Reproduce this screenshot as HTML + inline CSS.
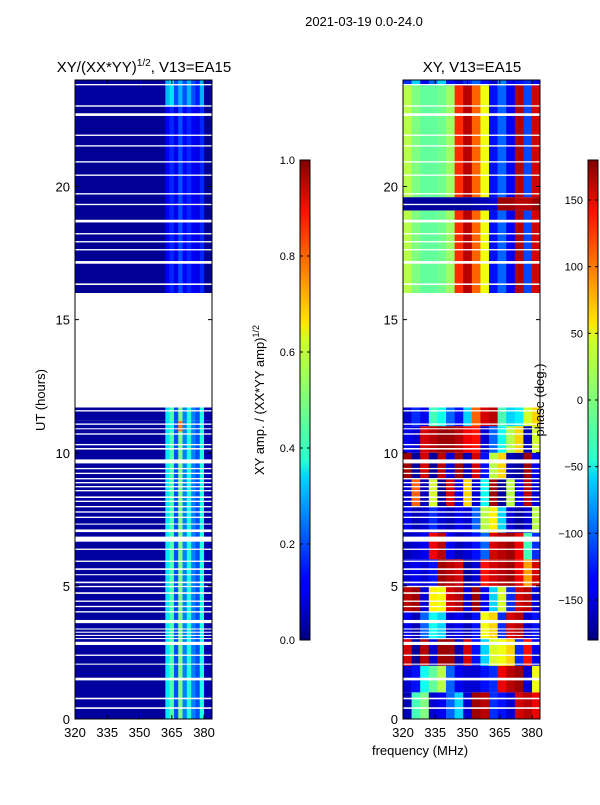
<!DOCTYPE html>
<html><head><meta charset="utf-8"><style>
body{margin:0;background:#fff;}
svg text{font-family:"Liberation Sans",sans-serif;fill:#000;}
</style></head><body>
<svg id="fig" width="600" height="800" xmlns="http://www.w3.org/2000/svg">
<defs>
<linearGradient id="jetg" x1="0" y1="1" x2="0" y2="0">
<stop offset="0" stop-color="#000080"/><stop offset="0.11" stop-color="#0000ff"/><stop offset="0.125" stop-color="#0000ff"/>
<stop offset="0.34" stop-color="#00d4ff"/><stop offset="0.375" stop-color="#29ffce"/><stop offset="0.5" stop-color="#7dff7a"/>
<stop offset="0.625" stop-color="#ceff29"/><stop offset="0.66" stop-color="#ffe600"/><stop offset="0.89" stop-color="#ff1300"/>
<stop offset="1" stop-color="#800000"/></linearGradient>
</defs>
<g id="left"></g>
<g id="right"></g>
<g id="axes"></g>
<text x="364" y="26" font-size="13" text-anchor="middle">2021-03-19 0.0-24.0</text>
<text x="144" y="72" font-size="15" text-anchor="middle">XY/(XX*YY)<tspan font-size="10" dy="-6">1/2</tspan><tspan dy="6">, V13=EA15</tspan></text>
<text x="472" y="72" font-size="15" text-anchor="middle">XY, V13=EA15</text>
<text transform="translate(45,400) rotate(-90)" font-size="13" text-anchor="middle">UT (hours)</text>
<text transform="translate(264,400) rotate(-90)" font-size="13" text-anchor="middle">XY amp. / (XX*YY amp)<tspan font-size="9" dy="-5">1/2</tspan></text>
<text transform="translate(544,400) rotate(-90)" font-size="13" text-anchor="middle">phase (deg.)</text>
<text x="420" y="755" font-size="13" text-anchor="middle">frequency (MHz)</text>
</svg>
<script>
// ---- data ----
const ampFreqEdges=[320,362,364,366,368,370,372,374,376,378,380,384];
const ampBandHours=[[0,10.8],[10.8,11.2],[11.2,11.7],[16,23.0],[23.0,24]];
const ampBandValues=[
[0.03,0.35,0.45,0.2,0.5,0.25,0.4,0.25,0.2,0.4,0.05],
[0.03,0.35,0.4,0.2,0.75,0.25,0.4,0.25,0.2,0.4,0.05],
[0.03,0.35,0.45,0.2,0.5,0.25,0.4,0.25,0.2,0.4,0.05],
[0.02,0.12,0.16,0.1,0.2,0.12,0.16,0.12,0.1,0.16,0.02],
[0.03,0.3,0.35,0.2,0.3,0.2,0.3,0.2,0.15,0.3,0.03]];
const phaseFreqEdges=[320,324,328,332,336,340,344,348,352,356,360,364,368,372,376,380,384];
const phaseBandHours=[[0,1],[1,2],[2,3],[3,4],[4,5],[5,6],[6,7],[7,8],[8,9],[9,10],[10,11],[11,11.7],[16,19.1],[19.1,19.6],[19.6,23.8],[23.8,24]];
const phaseBandValues=[
[-160,-20,0,-150,-140,-100,-60,-150,170,160,-120,-130,-150,150,160,140],
[-150,-130,-40,-10,20,-100,-140,-150,-150,-130,-120,140,160,170,-150,40],
[150,-170,160,-150,170,170,-160,150,-130,-60,30,40,60,-120,130,-140],
[-140,-160,-100,-40,-60,-150,-140,-160,-130,40,60,-120,150,160,-150,-130],
[160,170,-150,50,40,150,160,-150,170,-140,-60,30,-120,150,160,-150],
[-150,-140,-150,-130,170,160,150,-170,-150,130,150,160,170,140,80,150],
[-160,-150,-140,140,160,-140,-160,-150,-130,-100,150,160,170,140,-20,-120],
[-140,-160,-150,-120,-150,-160,-140,-150,-100,20,50,-60,-150,-170,-150,20],
[-150,100,-160,30,-170,150,-140,60,-150,-40,170,-170,20,-140,160,-150],
[170,-170,150,-170,160,-150,170,-160,150,-130,20,60,-160,-170,170,-140],
[-140,-150,150,160,170,170,160,140,130,-150,-100,-40,20,60,-160,30],
[-150,-120,-140,-20,-40,-100,-130,-60,100,150,160,-20,-60,-50,30,60],
[20,0,-10,-10,-5,10,120,160,100,40,-130,-100,-140,160,-110,150],
[-170,-170,-170,-170,-170,-170,-170,-170,-165,-160,-150,170,170,160,160,170],
[20,0,-10,-10,-5,10,120,160,100,40,-130,-100,-140,160,-110,150],
[-120,-60,-140,-100,-60,-130,-150,-120,-100,-130,-150,-90,-140,-130,-120,-140]];
const gapHours=[[0.38,0.44],[0.74,0.8],[1.45,1.55],[2.04,2.08],[2.37,2.42],[2.78,2.9],[3.0,3.04],[3.12,3.16],[3.24,3.28],[3.36,3.4],[3.6,3.72],[4.0,4.05],[4.2,4.25],[4.4,4.45],[4.7,4.76],[4.95,5.0],[5.1,5.16],[5.4,5.44],[5.6,5.66],[5.9,5.95],[6.35,6.4],[6.66,6.85],[7.02,7.12],[7.3,7.34],[7.55,7.6],[7.75,7.8],[7.95,8.0],[8.15,8.2],[8.3,8.36],[8.55,8.6],[8.7,8.75],[8.85,8.9],[9.0,9.05],[9.2,9.25],[9.38,9.43],[9.6,9.75],[10.12,10.18],[10.28,10.33],[10.68,10.73],[10.88,10.92],[11.05,11.1],[11.55,11.6],[11.7,16.0],[16.3,16.36],[17.1,17.2],[17.6,17.65],[17.9,17.95],[18.2,18.25],[18.65,18.75],[19.3,19.35],[19.7,19.75],[20.4,20.45],[20.9,20.95],[21.5,21.55],[21.9,21.95],[22.65,22.75],[23.0,23.05],[23.8,23.85]];
const yTicks=[0,5,10,15,20];
const xTicks=[320,335,350,365,380];
const ampCbTicks=[0.0,0.2,0.4,0.6,0.8,1.0];
const phaseCbTicks=[-150,-100,-50,0,50,100,150];
// ---- helpers ----
const NS="http://www.w3.org/2000/svg";
const Y0=719,Y1=80;
function yH(h){return Y0-h*(Y0-Y1)/24;}
function xF(x0,f){return x0+(f-320)*(137/63.7);}
function jet(v){v=Math.max(0,Math.min(1,v));
 const r=Math.max(0,Math.min(1,1.5-Math.abs(4*v-3)));
 const g=Math.max(0,Math.min(1,1.5-Math.abs(4*v-2)));
 const b=Math.max(0,Math.min(1,1.5-Math.abs(4*v-1)));
 return `rgb(${Math.round(r*255)},${Math.round(g*255)},${Math.round(b*255)})`;}
function mk(tag,attrs,parent){const e=document.createElementNS(NS,tag);for(const k in attrs)e.setAttribute(k,attrs[k]);parent.appendChild(e);return e;}
const L=document.getElementById('left'),R=document.getElementById('right'),A=document.getElementById('axes');
function drawHeat(g,x0,edges,bands,vals,norm,name){
 bands.forEach((b,i)=>{vals[i].forEach((v,j)=>{
  const xa=xF(x0,edges[j]),xb=Math.min(x0+137,xF(x0,edges[j+1]));
  const r=mk('rect',{x:xa,y:yH(b[1]),width:xb-xa+0.3,height:yH(b[0])-yH(b[1]),fill:jet(norm(v))},g);
  
  
 });});
 gapHours.forEach(gp=>{
  const r=mk('rect',{x:x0,y:yH(gp[1]),width:137,height:yH(gp[0])-yH(gp[1]),fill:'#fff'},g);
  
  
 });
}
drawHeat(L,75,ampFreqEdges,ampBandHours,ampBandValues,v=>v,'amp-cell');
drawHeat(R,403,phaseFreqEdges,phaseBandHours,phaseBandValues,v=>(v+180)/360,'phase-cell');
[75,403].forEach(x0=>{
 const f=mk('rect',{x:x0,y:Y1,width:137,height:Y0-Y1,fill:'none',stroke:'#000','stroke-width':1},A);
 
 
 yTicks.forEach(t=>{const y=yH(t);
  mk('line',{x1:x0,x2:x0+4,y1:y,y2:y,stroke:'#000'},A);
  mk('line',{x1:x0+137,x2:x0+133,y1:y,y2:y,stroke:'#000'},A);
  const tx=mk('text',{x:x0-5,y:y+5,'font-size':13,'text-anchor':'end'},A);tx.textContent=t;
  
  
 });
 xTicks.forEach(t=>{const x=xF(x0,t);
  mk('line',{x1:x,x2:x,y1:Y0,y2:Y0-4,stroke:'#000'},A);
  mk('line',{x1:x,x2:x,y1:Y1,y2:Y1+4,stroke:'#000'},A);
  const tx=mk('text',{x:x,y:Y0+18,'font-size':13,'text-anchor':'middle'},A);tx.textContent=t;
  
  
 });
});
function colorbar(x0,ticks,lo,hi,name){
 const r=mk('rect',{x:x0,y:160,width:10,height:480,fill:'url(#jetg)',stroke:'#000','stroke-width':1},A);
 
 
 ticks.forEach(t=>{const y=640-(t-lo)/(hi-lo)*480;
  mk('line',{x1:x0,x2:x0+3,y1:y,y2:y,stroke:'#000'},A);
  mk('line',{x1:x0+10,x2:x0+7,y1:y,y2:y,stroke:'#000'},A);
  const tx=mk('text',{x:x0-5,y:y+4,'font-size':11,'text-anchor':'end'},A);
  tx.textContent=(lo===0?t.toFixed(1):(t<0?'\u2212'+(-t):t));
  
  
 });
}
colorbar(300,ampCbTicks,0,1,'amp-colorbar');
colorbar(588,phaseCbTicks,-180,180,'phase-colorbar');
</script>
</body></html>
